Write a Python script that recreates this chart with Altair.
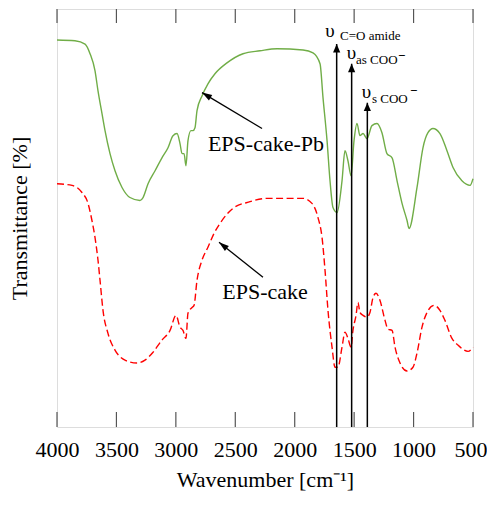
import altair as alt
import pandas as pd

# ---- data ----
pb_wn = [4000,3849,3764,3722,3680,3655,3621,3596,3554,3512,3453,3386,3302,3276,3234,3175,3117,3066,3024,2990,
         2965,2948,2931,2915,2898,2873,2856,2839,2822,2780,2730,2671,2570,2435,2292,2149,1930,1846,1787,1762,
         1728,1703,1678,1644,1602,1577,1552,1526,1501,1476,1451,1425,1392,1350,1308,1266,1224,1181,1139,1097,
         1055,1038,971,921,879,837,778,719,668,593,525,500]
pb_t = [92.6,92.4,91.6,89.3,85.2,80.4,74.9,70.9,65.4,61.3,57.3,54.9,54.2,54.9,58.2,61.3,64.4,66.8,69.7,70.2,
        67.8,65.4,65.4,62.5,68.5,70.9,70.9,71.6,75.7,79.2,82.1,84.5,87.1,89.3,90.0,90.5,90.2,89.5,86.9,78.8,
        68.5,58.9,52.5,51.3,58.9,66.1,63.7,60.1,68.5,72.6,69.7,70.2,69.0,72.1,72.6,70.4,65.4,64.4,58.9,53.5,
        49.4,47.5,57.3,66.8,70.4,71.4,70.2,66.1,62.1,58.9,57.8,59.4]

cake_wn = [4000,3874,3790,3739,3706,3680,3655,3638,3613,3571,3512,3428,3327,3260,3192,3117,3049,2999,2965,2940,
           2915,2898,2864,2847,2822,2780,2730,2679,2629,2519,2376,2233,2099,1930,1855,1804,1770,1745,1720,1686,
           1661,1636,1602,1577,1552,1526,1510,1484,1468,1451,1425,1392,1367,1341,1316,1283,1240,1215,1181,1156,
           1114,1055,1005,971,929,887,828,778,736,677,627,542,500]
cake_t = [58.2,57.8,56.1,53.5,49.4,45.3,39.9,35.1,27.9,22.4,18.4,16.0,15.3,16.0,17.9,20.8,23.1,26.7,23.9,23.1,
          21.2,27.2,28.6,29.1,35.1,39.9,43.0,46.3,48.7,52.3,53.9,54.7,54.7,54.7,53.5,50.1,45.3,37.5,27.9,19.1,
          14.3,14.3,19.1,22.7,21.2,19.1,23.1,26.7,29.8,27.4,26.7,26.3,27.4,31.0,32.0,30.3,25.5,23.4,23.1,19.1,
          15.3,13.4,14.3,17.7,23.9,27.4,29.1,27.9,25.5,21.2,19.6,18.1,19.1]

tick_values = [4000, 3500, 3000, 2500, 2000, 1500, 1000, 500]

# vertical band markers (wavenumber, arrow tip transmittance)
band_wn = [1647, 1521, 1389]
band_tip = [91.6, 86.9, 77.6]

# sample labels and their arrows (wavenumber / transmittance)
sample_names = ["EPS-cake-Pb", "EPS-cake"]
sample_label_wn = [2242, 2250]
sample_label_t = [67.8, 32.2]
arrow_tail_wn = [2275, 2267]
arrow_tail_t = [71.4, 35.8]
arrow_tip_wn = [2780, 2637]
arrow_tip_t = [80.0, 44.2]
arrow_angle = [301, 308]

FONT = "Liberation Serif"
W, H = 416, 418
GREEN = "#70AD47"
RED = "#FF0000"
FRAME = "#555555"

xsc = alt.Scale(domain=[500, 4000], reverse=True, nice=False, zero=False)
ysc = alt.Scale(domain=[0, 100], nice=False, zero=False)

x_axis = alt.Axis(values=tick_values, tickSize=0, domain=False, grid=False,
                  labelFont=FONT, labelFontSize=22, labelColor="black", labelPadding=12,
                  labelFlush=False, labelOverlap=False, format="d",
                  labelAlign={"condition": {"test": "datum.value === 500", "value": "right"}, "value": "center"},
                  labelOffset={"condition": {"test": "datum.value === 500", "value": 14}, "value": 0},
                  title="Wavenumber  [cm⁻¹]", titleFont=FONT, titleFontSize=22,
                  titleFontWeight="normal", titleColor="black", titlePadding=9)
y_axis = alt.Axis(labels=False, ticks=False, domain=False, grid=False,
                  title="Transmittance  [%]", titleFont=FONT, titleFontSize=22,
                  titleFontWeight="normal", titleColor="black", titlePadding=26)


def X(field):
    return alt.X(field, type="quantitative", scale=xsc, axis=x_axis)


def Y(field):
    return alt.Y(field, type="quantitative", scale=ysc, axis=y_axis)


pb_df = pd.DataFrame({"wn": pb_wn, "t": pb_t})
cake_df = pd.DataFrame({"wn": cake_wn, "t": cake_t})

pb_line = alt.Chart(pb_df).mark_line(color=GREEN, strokeWidth=1.4, interpolate="monotone").encode(
    x=X("wn"), y=Y("t"))
cake_line = alt.Chart(cake_df).mark_line(color=RED, strokeWidth=1.4, strokeDash=[7, 3.5],
                                         interpolate="monotone").encode(x=X("wn"), y=Y("t"))

ticks_df = pd.DataFrame({"wn": tick_values})
top_ticks = alt.Chart(ticks_df).mark_rule(color=FRAME, strokeWidth=1.2).encode(
    x=X("wn"), y=alt.value(0), y2=alt.value(14))
bot_ticks = alt.Chart(ticks_df).mark_rule(color=FRAME, strokeWidth=1.2).encode(
    x=X("wn"), y=alt.value(H - 15), y2=alt.value(H))

band_df = pd.DataFrame({"wn": band_wn, "tip": band_tip, "base": [0] * len(band_wn)})
band_rules = alt.Chart(band_df).mark_rule(color="black", strokeWidth=1.5).encode(
    x=X("wn"), y=Y("base"), y2="tip:Q")
band_heads = alt.Chart(band_df).mark_point(
    shape="M0,0L1.8,4.2L-1.8,4.2Z", filled=True, color="black", size=16, opacity=1, strokeWidth=0
).encode(x=X("wn"), y=Y("tip"))

# band labels: nu symbol + subscript text + superscript minus
nu_df = pd.DataFrame({"wn": [1703, 1522, 1396], "t": [93.3, 88.1, 78.8], "txt": ["υ", "υ", "υ"]})
nu_text = alt.Chart(nu_df).mark_text(font=FONT, fontSize=19, align="center", baseline="alphabetic",
                                     color="black").encode(x=X("wn"), y=Y("t"), text="txt:N")
sub_df = pd.DataFrame({"wn": [1619, 1484, 1350], "t": [92.6, 86.9, 77.6],
                       "txt": ["C=O amide", "as COO", "s COO"]})
sub_text = alt.Chart(sub_df).mark_text(font=FONT, fontSize=13, align="left", baseline="alphabetic",
                                       color="black").encode(x=X("wn"), y=Y("t"), text="txt:N")
sup_df = pd.DataFrame({"wn": [1131, 1030], "t": [88.8, 80.4], "txt": ["−", "−"]})
sup_text = alt.Chart(sup_df).mark_text(font=FONT, fontSize=13, fontWeight="bold", align="left",
                                       baseline="middle", color="black").encode(x=X("wn"), y=Y("t"), text="txt:N")

lab_df = pd.DataFrame({"wn": sample_label_wn, "t": sample_label_t, "txt": sample_names})
lab_text = alt.Chart(lab_df).mark_text(font=FONT, fontSize=22, align="center", baseline="middle",
                                       color="black").encode(x=X("wn"), y=Y("t"), text="txt:N")

arr_df = pd.DataFrame({"x1": arrow_tail_wn, "y1": arrow_tail_t, "x2": arrow_tip_wn, "y2": arrow_tip_t,
                       "ang": arrow_angle})
arr_lines = alt.Chart(arr_df).mark_rule(color="black", strokeWidth=1.3).encode(
    x=X("x1"), y=Y("y1"), x2="x2:Q", y2="y2:Q")
arr_heads = alt.Chart(arr_df).mark_point(
    shape="M0,0L1.6,5L-1.6,5Z", filled=True, color="black", size=16, opacity=1, strokeWidth=0
).encode(x=X("x2"), y=Y("y2"), angle=alt.Angle("ang:Q", scale=None))

chart = alt.layer(
    pb_line, cake_line, top_ticks, bot_ticks, band_rules, band_heads,
    nu_text, sub_text, sup_text, lab_text, arr_lines, arr_heads
).properties(
    width=W, height=H,
    autosize=alt.AutoSizeParams(type="none"),
    padding={"left": 49, "top": 1, "right": 14, "bottom": 70},
).configure_view(stroke=FRAME, strokeWidth=1.2).configure(background="white")

chart.save("out.html", embed_options={"renderer": "svg", "actions": False})
